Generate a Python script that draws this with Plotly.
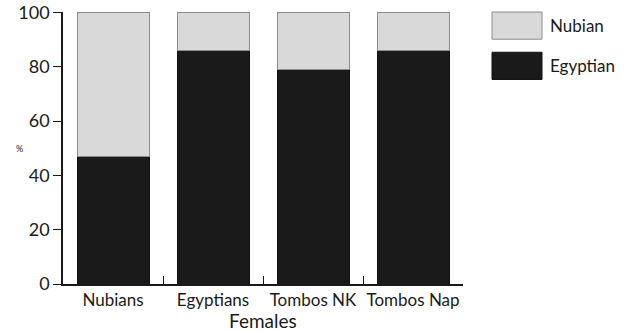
import plotly.graph_objects as go

categories = ["Nubians", "Egyptians", "Tombos NK", "Tombos Nap"]
egyptian = [47, 86, 79, 86]
nubian = [53, 14, 21, 14]
series_names = ["Nubian", "Egyptian"]
y_ticks = [0, 20, 40, 60, 80, 100]
x_title = "Females"
y_title = "%"

FONT = "Lato, Noto Sans, sans-serif"
GREY = "#d9d9d9"
BLACK = "#1a1a1a"

fig = go.Figure()
fig.add_trace(go.Bar(x=categories, y=egyptian, name=series_names[1], width=0.72,
                     marker=dict(color=BLACK, line=dict(color="#111111", width=1)),
                     showlegend=False))
fig.add_trace(go.Bar(x=categories, y=nubian, name=series_names[0], width=0.72,
                     marker=dict(color=GREY, line=dict(color="#8c8c8c", width=1)),
                     showlegend=False))

fig.update_layout(
    barmode="stack",
    width=628, height=331,
    margin=dict(l=63, r=165, t=12, b=47),
    plot_bgcolor="white", paper_bgcolor="white",
    font=dict(family=FONT, color="#1a1a1a"),
    xaxis=dict(
        showline=True, linecolor="#1a1a1a", linewidth=1.5,
        ticks="inside", ticklen=8, tickcolor="#1a1a1a", tickwidth=1.2,
        tickson="boundaries", tickfont=dict(size=17), tickangle=0,
        showgrid=False, automargin=False,
    ),
    yaxis=dict(
        range=[0, 100.2], tickvals=y_ticks,
        showline=True, linecolor="#1a1a1a", linewidth=1.5,
        ticks="outside", ticklen=8, tickcolor="#1a1a1a", tickwidth=1.2,
        tickfont=dict(size=18), showgrid=False, zeroline=False, automargin=False,
    ),
)

# axis titles
fig.add_annotation(text=x_title, xref="paper", yref="paper", x=0.5, y=-0.135,
                   xanchor="center", yanchor="middle", showarrow=False,
                   font=dict(size=19, family=FONT))
fig.add_annotation(text=y_title, xref="paper", yref="paper", x=-0.11, y=0.5,
                   xanchor="center", yanchor="middle", showarrow=False,
                   font=dict(size=9, family=FONT))

# Legend boxes (drawn manually to match large swatches)
legend_items = [(series_names[0], GREY, "#8c8c8c"), (series_names[1], BLACK, "#111111")]
for i, (name, fill, edge) in enumerate(legend_items):
    y_top = 1.0 - i * 0.148
    y_bot = y_top - 0.1
    fig.add_shape(type="rect", xref="paper", yref="paper",
                  x0=1.0725, x1=1.1975, y0=y_bot, y1=y_top,
                  fillcolor=fill, line=dict(color=edge, width=1))
    fig.add_annotation(text=name, xref="paper", yref="paper",
                       x=1.212, y=(y_top + y_bot) / 2, xanchor="left", yanchor="middle",
                       showarrow=False, font=dict(size=17, family=FONT))

fig.write_html("out.html", config={"displayModeBar": False},
               post_script="document.body.style.margin='0';")
